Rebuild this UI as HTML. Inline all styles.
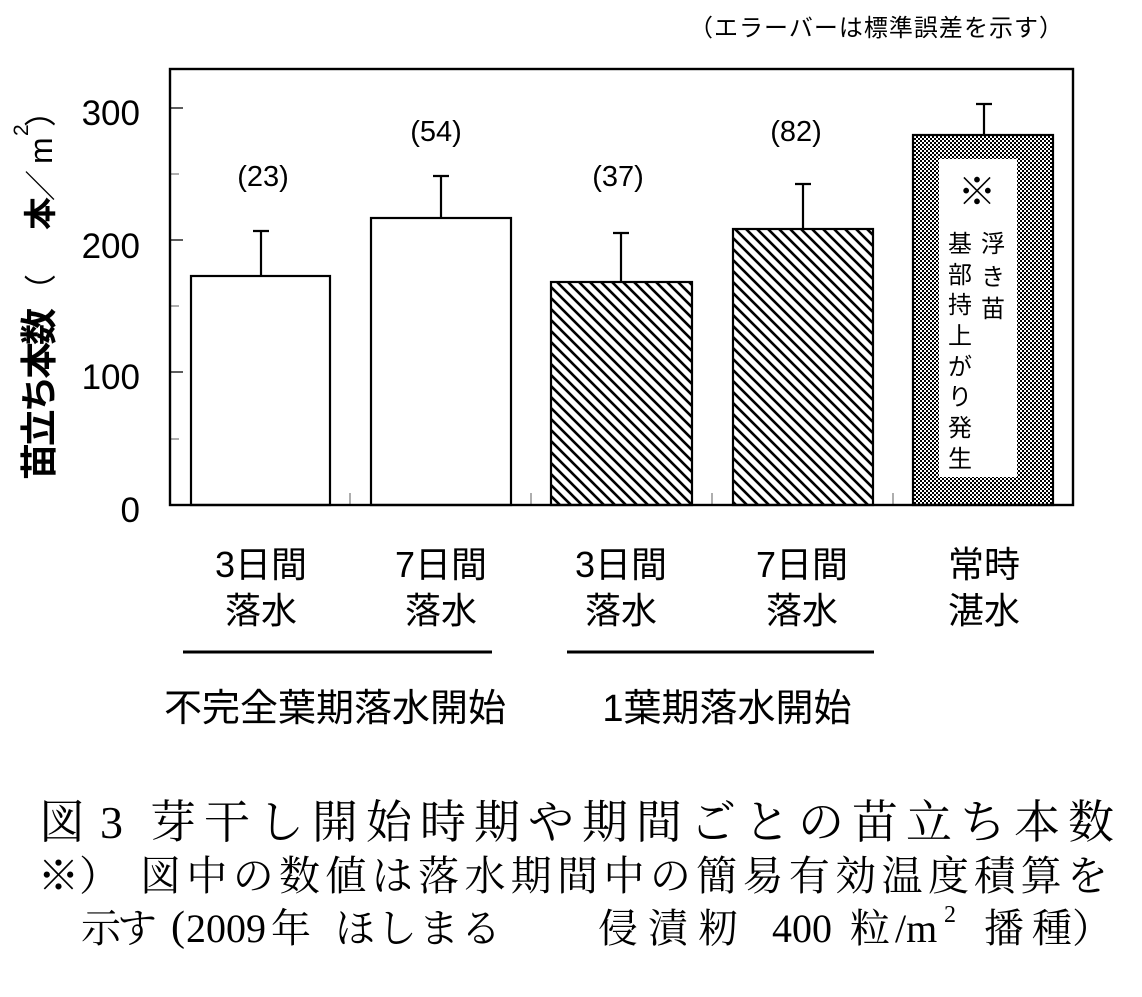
<!DOCTYPE html>
<html>
<head>
<meta charset="utf-8">
<style>
  html,body{margin:0;padding:0;background:#fff;}
  svg{display:block;}
  .sans{font-family:"Liberation Sans","Noto Sans CJK JP",sans-serif;}
  .serif{font-family:"Liberation Serif","Noto Serif CJK SC",serif;}
</style>
</head>
<body>
<svg width="1142" height="997" viewBox="0 0 1142 997" xmlns="http://www.w3.org/2000/svg">
  <defs>
    <pattern id="hatch" patternUnits="userSpaceOnUse" width="11" height="11">
      <rect width="11" height="11" fill="#fff"/>
      <path d="M-2,-2 L13,13 M-2,9 L2,13 M9,-2 L13,2" stroke="#000" stroke-width="2.6" fill="none"/>
    </pattern>
    <pattern id="check" patternUnits="userSpaceOnUse" width="4" height="4">
      <rect width="4" height="4" fill="#fff"/>
      <rect width="2" height="2" fill="#000"/>
      <rect x="2" y="2" width="2" height="2" fill="#000"/>
    </pattern>
  </defs>

  <rect width="1142" height="997" fill="#fff"/>

  <!-- top note -->
  <text class="sans" x="689" y="36" font-size="24" textLength="374" lengthAdjust="spacing">（エラーバーは標準誤差を示す）</text>

  <!-- y ticks -->
  <g stroke-width="1.6">
    <line x1="170" y1="108" x2="183" y2="108" stroke="#333"/>
    <line x1="170" y1="240" x2="183" y2="240" stroke="#333"/>
    <line x1="170" y1="372" x2="183" y2="372" stroke="#333"/>
    <line x1="170" y1="174" x2="179" y2="174" stroke="#999"/>
    <line x1="170" y1="306" x2="179" y2="306" stroke="#999"/>
    <line x1="170" y1="439" x2="179" y2="439" stroke="#999"/>
    <!-- x ticks -->
    <line x1="350" y1="505" x2="350" y2="493" stroke="#999"/>
    <line x1="531" y1="505" x2="531" y2="493" stroke="#999"/>
    <line x1="712" y1="505" x2="712" y2="493" stroke="#999"/>
    <line x1="893" y1="505" x2="893" y2="493" stroke="#999"/>
  </g>

  <!-- y tick labels -->
  <g class="sans" font-size="35" text-anchor="end" fill="#000">
    <text x="140" y="125">300</text>
    <text x="140" y="258">200</text>
    <text x="140" y="389">100</text>
    <text x="140" y="522">0</text>
  </g>

  <!-- y axis label (rotated) -->
  <g transform="translate(52,0) rotate(-90)" class="sans" fill="#000">
    <text x="-480" y="0" font-size="37" font-weight="bold" textLength="172" lengthAdjust="spacing">苗立ち本数</text>
    <text x="-306" y="0" font-size="32">（</text>
    <text x="-230" y="0" font-size="33" font-weight="bold">本</text>
    <text x="-201" y="0" font-size="31">／</text>
    <text x="-164" y="0" font-size="32">m</text>
    <text x="-136" y="-24" font-size="21">2</text>
    <text x="-127" y="0" font-size="32">）</text>
  </g>

  <!-- bars -->
  <g stroke="#000" stroke-width="2.2">
    <rect x="191" y="276" width="139" height="229" fill="#fff"/>
    <rect x="371" y="218" width="140" height="287" fill="#fff"/>
    <rect x="551" y="282" width="141" height="223" fill="url(#hatch)"/>
    <rect x="733" y="229" width="140" height="276" fill="url(#hatch)"/>
    <rect x="913" y="135" width="140" height="370" fill="url(#check)"/>
  </g>
  <rect x="939" y="159" width="78" height="318" fill="#fff"/>

  <!-- error bars -->
  <g stroke="#000" stroke-width="2.2" fill="none">
    <path d="M261,276 V231 M253,231 H269"/>
    <path d="M441,218 V176 M433,176 H449"/>
    <path d="M621,282 V233 M613,233 H629"/>
    <path d="M803,229 V184 M795,184 H811"/>
    <path d="M984,135 V104 M976,104 H992"/>
  </g>

  <!-- frame -->
  <rect x="170" y="69" width="903" height="436" fill="none" stroke="#000" stroke-width="2.4"/>

  <!-- value annotations -->
  <g class="sans" font-size="29" text-anchor="middle" fill="#000">
    <text x="263" y="186">(23)</text>
    <text x="436" y="141">(54)</text>
    <text x="618" y="186">(37)</text>
    <text x="796" y="141">(82)</text>
  </g>

  <!-- inner text of bar 5 -->
  <g class="sans" text-anchor="middle" fill="#000">
    <text x="977" y="205" font-size="38">※</text>
    <g font-size="24">
      <text x="993" y="252">浮</text>
      <text x="993" y="285">き</text>
      <text x="993" y="317">苗</text>
      <text x="960" y="252">基</text>
      <text x="960" y="283">部</text>
      <text x="960" y="313">持</text>
      <text x="960" y="344">上</text>
      <text x="960" y="375">が</text>
      <text x="960" y="405">り</text>
      <text x="960" y="436">発</text>
      <text x="960" y="467">生</text>
    </g>
  </g>

  <!-- x labels -->
  <g class="sans" font-size="36" text-anchor="middle" fill="#000">
    <text x="261" y="577">3日間</text>
    <text x="261" y="623">落水</text>
    <text x="441" y="577">7日間</text>
    <text x="441" y="623">落水</text>
    <text x="621" y="577">3日間</text>
    <text x="621" y="623">落水</text>
    <text x="802" y="577">7日間</text>
    <text x="802" y="623">落水</text>
    <text x="984" y="577">常時</text>
    <text x="984" y="623">湛水</text>
  </g>

  <!-- group lines -->
  <g stroke="#000" stroke-width="3">
    <line x1="183" y1="652" x2="492" y2="652"/>
    <line x1="567" y1="652" x2="874" y2="652"/>
  </g>
  <g class="sans" font-size="38" text-anchor="middle" fill="#000">
    <text x="335" y="721">不完全葉期落水開始</text>
    <text x="727" y="721">1葉期落水開始</text>
  </g>

  <!-- caption -->
  <g class="serif" fill="#000">
    <text x="39" y="838" font-size="46">図</text>
    <text x="100" y="838" font-size="46">3</text>
    <text x="150" y="838" font-size="46" textLength="964" lengthAdjust="spacing">芽干し開始時期や期間ごとの苗立ち本数</text>

    <text x="38" y="890" font-size="41">※）</text>
    <text x="140" y="890" font-size="41" textLength="968" lengthAdjust="spacing">図中の数値は落水期間中の簡易有効温度積算を</text>

    <text x="81" y="942" font-size="40" textLength="76" lengthAdjust="spacing">示す</text>
    <text x="171" y="940" font-size="42">(</text>
    <text x="186" y="942" font-size="40">2009</text>
    <text x="271" y="942" font-size="40">年</text>
    <text x="335" y="942" font-size="40" textLength="166" lengthAdjust="spacing">ほしまる</text>
    <text x="598" y="942" font-size="40" textLength="140" lengthAdjust="spacing">侵漬籾</text>
    <text x="772" y="942" font-size="40">400</text>
    <text x="850" y="942" font-size="40">粒</text>
    <text x="895" y="942" font-size="40">/m</text>
    <text x="944" y="922" font-size="24">2</text>
    <text x="984" y="942" font-size="40" textLength="88" lengthAdjust="spacing">播種</text>
    <text x="1072" y="942" font-size="40">）</text>
  </g>
</svg>
</body>
</html>
